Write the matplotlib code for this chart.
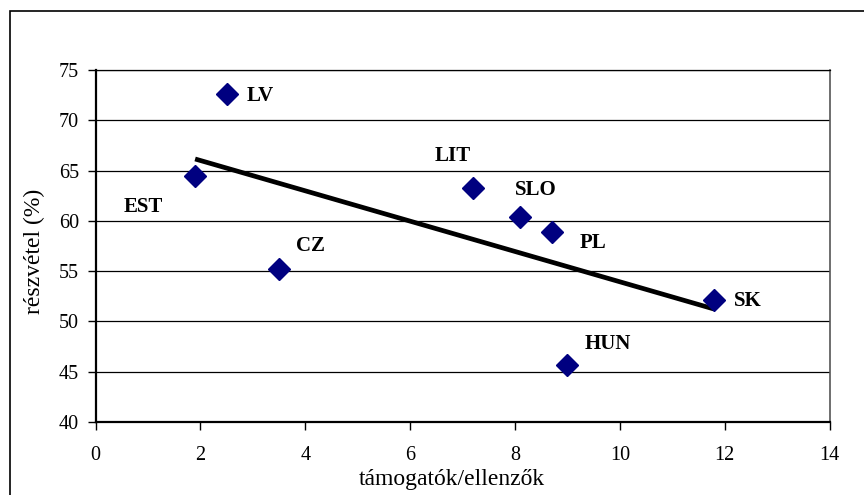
import numpy as np
import matplotlib
matplotlib.use("Agg")
import matplotlib.pyplot as plt
from matplotlib.patches import Rectangle

plt.rcParams["font.family"] = ["Liberation Serif", "DejaVu Serif"]

# ── Data ──────────────────────────────────────────────────────────────────────
countries = ["LV", "EST", "CZ", "LIT", "SLO", "PL", "SK", "HUN"]
ratio     = [2.5, 1.9, 3.5, 7.2, 8.1, 8.7, 11.8, 9.0]      # támogatók/ellenzők
turnout   = [72.6, 64.5, 55.2, 63.3, 60.4, 58.9, 52.1, 45.7]  # részvétel (%)

# label offsets in pixels (dx right+, dy down+) and alignment
label_pos = {
    "LV":  (20, 2, "left"),
    "EST": (-52, 31, "center"),
    "CZ":  (17, -23, "left"),
    "LIT": (-20, -32, "center"),
    "SLO": (-5, -27, "left"),
    "PL":  (28, 11, "left"),
    "SK":  (20, 1, "left"),
    "HUN": (17, -21, "left"),
}

fig = plt.figure(figsize=(8.64, 4.95), dpi=100)
ax = fig.add_axes([95.5 / 864, 1 - 422 / 495, 734 / 864, 352 / 495])

# outer chart frame (Excel style) - right and bottom edges fall outside the image
fig.patches.append(Rectangle((10 / 864, -0.05), 1.0, 1.05 - 11 / 495,
                             transform=fig.transFigure, fill=False,
                             edgecolor="black", linewidth=1.2))

ax.set_xlim(0, 14)
ax.set_ylim(40, 75)
ax.set_xticks(np.arange(0, 15, 2))
ax.set_yticks(np.arange(40, 80, 5))
ax.yaxis.grid(True, color="black", linewidth=0.9)
ax.set_axisbelow(True)

for side in ["left", "bottom"]:
    ax.spines[side].set_linewidth(1.6)
ax.spines["top"].set_linewidth(0.9)
ax.spines["right"].set_color("#555555")
ax.spines["right"].set_linewidth(1.2)

ax.tick_params(axis="both", direction="out", length=6, width=1,
               labelsize=14.5, pad=6)
ax.tick_params(axis="x", pad=11)

# trend line over data range
coef = np.polyfit(ratio, turnout, 1)
xr = np.array([min(ratio), max(ratio)])
ax.plot(xr, np.polyval(coef, xr), color="black", linewidth=3.4,
        solid_capstyle="butt", zorder=3)

ax.plot(ratio, turnout, linestyle="none", marker="D", markersize=11.5,
        color="#000080", zorder=4, clip_on=False)

for name, x, y in zip(countries, ratio, turnout):
    dx, dy, ha = label_pos[name]
    ax.annotate(name, (x, y), xytext=(dx * 0.72, -dy * 0.72),
                textcoords="offset points", ha=ha, va="center",
                fontsize=15, fontweight="bold")

ax.set_xlabel("támogatók/ellenzők", fontsize=17)
ax.set_ylabel("részvétel (%)", fontsize=17)
ax.xaxis.set_label_coords(0.485, -0.1335)
ax.yaxis.set_label_coords(-0.069, 0.484)

fig.savefig("out.png", dpi=100)
